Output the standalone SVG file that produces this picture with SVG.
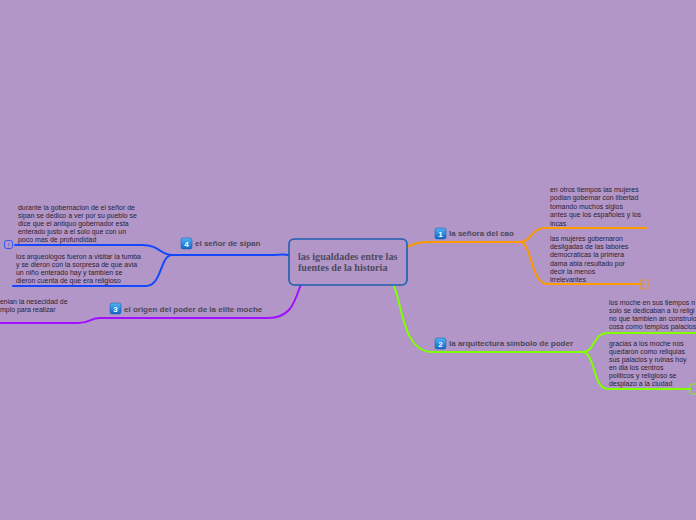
<svg xmlns="http://www.w3.org/2000/svg" width="696" height="520" viewBox="0 0 696 520">
<defs>
<linearGradient id="ig" x1="0" y1="0" x2="0" y2="1"><stop offset="0" stop-color="#4fb3f5"/><stop offset="1" stop-color="#1166cc"/></linearGradient>
<style>
.c{fill:none;stroke-width:2;stroke-linecap:round}
.t{font-family:"Liberation Sans",Arial,sans-serif;font-size:6.95px;fill:#2a2233}
.l{font-family:"Liberation Sans",Arial,sans-serif;font-size:8px;font-weight:bold;fill:#4d4658}
.n{font-family:"Liberation Sans",Arial,sans-serif;font-size:8px;font-weight:bold;fill:#fff;text-anchor:middle}
.ic{fill:url(#ig);stroke:#0c5aa8;stroke-width:0.5}
</style>
</defs>
<rect width="696" height="520" fill="#b196c7"/>
<g id="connectors">
<path class="c" stroke="#ff9a00" d="M407,247 C415,243 420,242 432,242 L520,242"/>
<path class="c" stroke="#ff9a00" d="M520,242 C532,242 530,228 546,228 L646,228"/>
<path class="c" stroke="#ff9a00" d="M520,242 C532,242 530,284 548,284 L640,284"/>
<path class="c" stroke="#80ff00" d="M393,284 C402,300 402,352 432,352 L582,352"/>
<path class="c" stroke="#80ff00" d="M582,352 C596,352 592,333 608,333 L696,333"/>
<path class="c" stroke="#80ff00" d="M582,352 C596,352 592,389 608,389 L690,389"/>
<path class="c" stroke="#a010ff" d="M301,284 C295,300 292,318 268,318 L100,318 C90,318 90,323 78,323 L0,323"/>
<path class="c" stroke="#1448ff" d="M289,255 C282,254 280,255 270,255 L172,255"/>
<path class="c" stroke="#1448ff" d="M172,255 C160,255 160,245 142,245 L15,245"/>
<path class="c" stroke="#1448ff" d="M172,255 C160,255 162,286 146,286 L13,286"/>
</g>
<g id="center">
<rect x="289" y="239" width="118" height="46" rx="5" fill="#b196c7" stroke="#1f5fb0" stroke-width="1.6"/>
<text x="298" y="260" font-family="'Liberation Serif',serif" font-size="10.1" font-weight="bold" fill="#4f4a5c">las igualdades entre las</text>
<text x="298" y="271" font-family="'Liberation Serif',serif" font-size="10.1" font-weight="bold" fill="#4f4a5c">fuentes de la historia</text>
</g>
<g id="n1">
<rect class="ic" x="435" y="228" width="11" height="11" rx="2"/><text class="n" x="440.5" y="236.8">1</text>
<text class="l" x="449" y="236">la señora del cao</text>
</g>
<g id="n1a">
<text class="t" x="550" y="191.5">en otros tiempos las mujeres</text>
<text class="t" x="550" y="200">podian gobernar con libertad</text>
<text class="t" x="550" y="208.5">tomando muchos siglos</text>
<text class="t" x="550" y="217">antes que los españoles y los</text>
<text class="t" x="550" y="225.5">incas</text>
</g>
<g id="n1b">
<text class="t" x="550" y="241">las mujeres gobernaron</text>
<text class="t" x="550" y="249.2">desligadas de las labores</text>
<text class="t" x="550" y="257.4">democraticas la primera</text>
<text class="t" x="550" y="265.6">dama abia resultado por</text>
<text class="t" x="550" y="273.8">decir la menos</text>
<text class="t" x="550" y="282">irrelevantes</text>
<rect x="640" y="280" width="8" height="9" rx="2" fill="none" stroke="#ff9a00" stroke-width="0.8"/>
<text x="644" y="287.5" font-family="'Liberation Sans',sans-serif" font-size="6.5" fill="#ff9a00" text-anchor="middle">?</text>
</g>
<g id="n2">
<rect class="ic" x="435" y="338" width="11" height="11" rx="2"/><text class="n" x="440.5" y="346.8">2</text>
<text class="l" x="449" y="346">la arquitectura simbolo de poder</text>
</g>
<g id="n2a">
<text class="t" x="609" y="304.5">los moche en sus tiempos n</text>
<text class="t" x="609" y="312.5">solo se dedicaban a lo religi</text>
<text class="t" x="609" y="320.5">no que tambien an construio</text>
<text class="t" x="609" y="328.5">cosa como templos palacios</text>
</g>
<g id="n2b">
<text class="t" x="609" y="345.5">gracias a los moche nos</text>
<text class="t" x="609" y="353.5">quedaron como reliquias</text>
<text class="t" x="609" y="361.5">sus palacios y ruinas hoy</text>
<text class="t" x="609" y="369.5">en dia los centros</text>
<text class="t" x="609" y="377.5">politicos y religioso se</text>
<text class="t" x="609" y="385.5">desplazo a la ciudad</text>
<rect x="690" y="384" width="8" height="10" rx="2" fill="none" stroke="#80ff00" stroke-width="0.8"/>
</g>
<g id="n3">
<rect class="ic" x="110" y="303" width="11" height="11" rx="2"/><text class="n" x="115.5" y="311.8">3</text>
<text class="l" x="124" y="312">el origen del poder de la elite moche</text>
</g>
<g id="n3a">
<text class="t" x="0" y="303.5">enian la nesecidad de</text>
<text class="t" x="0" y="311.5">mplo para realizar</text>
</g>
<g id="n4">
<rect class="ic" x="181" y="238" width="11" height="11" rx="2"/><text class="n" x="186.5" y="246.8">4</text>
<text class="l" x="195" y="246">el señor  de sipan</text>
</g>
<g id="n4a">
<text class="t" x="18" y="210">durante la gobernacion de el señor de</text>
<text class="t" x="18" y="218">sipan se dedico a ver por su pueblo se</text>
<text class="t" x="18" y="226">dice que el antiquo gobernador esta</text>
<text class="t" x="18" y="234">enterado justo a el solo que con un</text>
<text class="t" x="18" y="242">poco mas de profundidad</text>
<rect x="4.5" y="240.5" width="8" height="8" rx="2" fill="none" stroke="#1448ff" stroke-width="0.8"/>
<text x="8.5" y="247.2" font-family="'Liberation Sans',sans-serif" font-size="6" fill="#1448ff" text-anchor="middle">!</text>
</g>
<g id="n4b">
<text class="t" x="16" y="259">los arqueologos fueron a visitar la tumba</text>
<text class="t" x="16" y="267">y se dieron con la sorpresa de que avia</text>
<text class="t" x="16" y="275">un niño enterado hay y tambien se</text>
<text class="t" x="16" y="283">dieron cuenta de que era religioso</text>
</g>
</svg>
